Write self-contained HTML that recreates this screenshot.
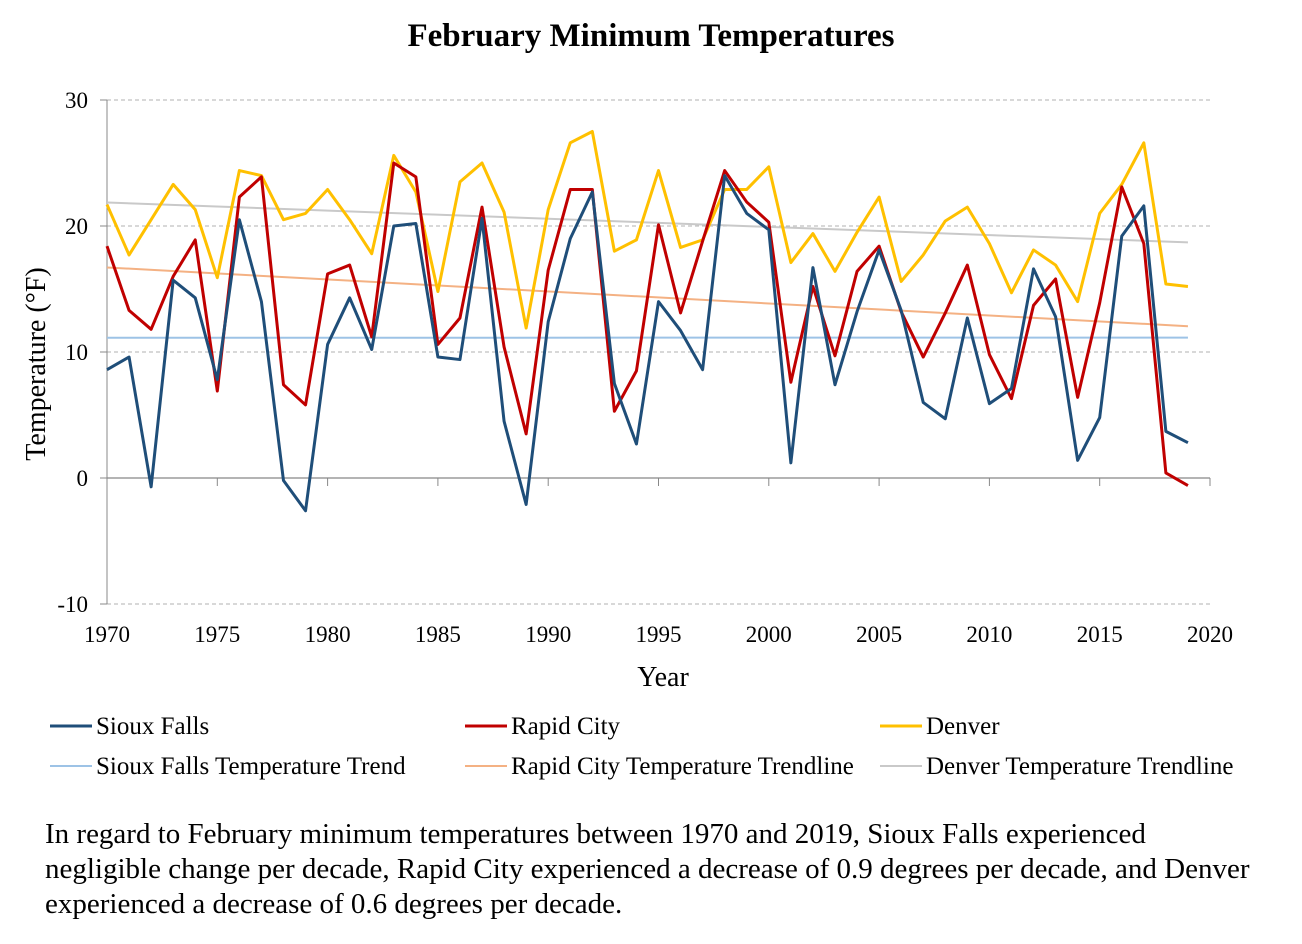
<!DOCTYPE html>
<html><head><meta charset="utf-8"><style>
body{margin:0;background:#fff;font-family:"Liberation Serif",serif;}
</style></head><body>
<svg width="1302" height="939" xmlns="http://www.w3.org/2000/svg" font-family="Liberation Serif, serif">
<text x="651" y="46" text-anchor="middle" font-size="33" font-weight="bold">February Minimum Temperatures</text>
<g id="grid"></g>
<g id="axes"></g>
<g id="series"></g>
<text transform="translate(45,364) rotate(-90)" text-anchor="middle" font-size="28">Temperature (°F)</text>
<text x="663" y="686" text-anchor="middle" font-size="28">Year</text>
<g font-size="25">
<line x1="50" y1="726" x2="92" y2="726" stroke="#1f4e79" stroke-width="3"/><text x="96" y="734">Sioux Falls</text>
<line x1="465" y1="726" x2="507" y2="726" stroke="#c00000" stroke-width="3"/><text x="511" y="734">Rapid City</text>
<line x1="880" y1="726" x2="922" y2="726" stroke="#ffc000" stroke-width="3"/><text x="926" y="734">Denver</text>
<line x1="50" y1="766" x2="92" y2="766" stroke="#9dc3e6" stroke-width="2"/><text x="96" y="774">Sioux Falls Temperature Trend</text>
<line x1="465" y1="766" x2="507" y2="766" stroke="#f4b183" stroke-width="2"/><text x="511" y="774">Rapid City Temperature Trendline</text>
<line x1="880" y1="766" x2="922" y2="766" stroke="#c9c9c9" stroke-width="2"/><text x="926" y="774">Denver Temperature Trendline</text>
</g>
<g font-size="29">
<text x="45" y="843">In regard to February minimum temperatures between 1970 and 2019, Sioux Falls experienced</text>
<text x="45" y="878">negligible change per decade, Rapid City experienced a decrease of 0.9 degrees per decade, and Denver</text>
<text x="45" y="913">experienced a decrease of 0.6 degrees per decade.</text>
</g>
</svg>
<script>
const startYear = 1970;
const siouxFalls = [8.6,9.6,-0.7,15.7,14.3,7.8,20.5,14.0,-0.2,-2.6,10.6,14.3,10.2,20.0,20.2,9.6,9.4,20.6,4.5,-2.1,12.4,19.0,22.7,7.5,2.7,14.0,11.7,8.6,24.0,21.0,19.7,1.2,16.7,7.4,13.2,18.1,13.3,6.0,4.7,12.7,5.9,7.1,16.6,12.8,1.4,4.8,19.2,21.6,3.7,2.8];
const rapidCity = [18.4,13.3,11.8,16.0,18.9,6.9,22.3,23.9,7.4,5.8,16.2,16.9,11.2,25.0,23.9,10.6,12.7,21.5,10.4,3.5,16.5,22.9,22.9,5.3,8.5,20.1,13.1,18.8,24.4,21.9,20.3,7.6,15.2,9.7,16.4,18.4,13.2,9.6,13.1,16.9,9.8,6.3,13.7,15.8,6.4,13.9,23.1,18.6,0.4,-0.6];
const denver = [21.7,17.7,20.5,23.3,21.3,15.9,24.4,24.0,20.5,21.0,22.9,20.5,17.8,25.6,22.7,14.8,23.5,25.0,21.1,11.9,21.3,26.6,27.5,18.0,18.9,24.4,18.3,18.9,22.9,22.9,24.7,17.1,19.4,16.4,19.5,22.3,15.6,17.7,20.4,21.5,18.6,14.7,18.1,16.9,14.0,21.0,23.3,26.6,15.4,15.2];
const yTicks = [-10,0,10,20,30];
const xTickLabels = [1970,1975,1980,1985,1990,1995,2000,2005,2010,2015,2020];

const NS="http://www.w3.org/2000/svg";
const X0=107,X1=1210,Y0=478,PXV=12.6;
const xs=yr=>X0+(yr-1970)*(X1-X0)/50;
const ys=v=>Y0-v*PXV;
function mk(t,a,p){const e=document.createElementNS(NS,t);for(const k in a)e.setAttribute(k,a[k]);p.appendChild(e);return e;}
const grid=document.getElementById('grid'),axes=document.getElementById('axes'),ser=document.getElementById('series');
yTicks.forEach(v=>{
  if(v!==0){const l=mk('line',{x1:X0,x2:X1,y1:ys(v),y2:ys(v),stroke:'#b0b0b0','stroke-dasharray':'4,3','stroke-width':1},grid);
  
  }
  mk('line',{x1:X0-7,x2:X0,y1:ys(v),y2:ys(v),stroke:'#888'},axes);
  const t=mk('text',{x:88,y:ys(v)+8,'text-anchor':'end','font-size':23},axes);t.textContent=v;
  
  
});
mk('line',{x1:X0,x2:X0,y1:ys(30),y2:ys(-10),stroke:'#888'},axes);
mk('line',{x1:X0,x2:X1,y1:Y0,y2:Y0,stroke:'#888','stroke-width':1.2},axes);
xTickLabels.forEach(yr=>{
  mk('line',{x1:xs(yr),x2:xs(yr),y1:Y0,y2:Y0+8,stroke:'#888'},axes);
  const t=mk('text',{x:xs(yr),y:642,'text-anchor':'middle','font-size':23},axes);t.textContent=yr;
  
  
});
function trend(d,color,name){
  const n=d.length;let sx=0,sy=0,sxx=0,sxy=0;
  d.forEach((v,i)=>{sx+=i;sy+=v;sxx+=i*i;sxy+=i*v;});
  const b=(n*sxy-sx*sy)/(n*sxx-sx*sx),a=(sy-b*sx)/n;
  const l=mk('line',{x1:xs(startYear),y1:ys(a),x2:xs(startYear+n-1),y2:ys(a+b*(n-1)),stroke:color,'stroke-width':2},ser);
  
  
}
trend(siouxFalls,'#9dc3e6','sioux-falls-trendline');
trend(rapidCity,'#f4b183','rapid-city-trendline');
trend(denver,'#c9c9c9','denver-trendline');
function line(d,color,name){
  const p=mk('polyline',{points:d.map((v,i)=>xs(startYear+i)+','+ys(v)).join(' '),fill:'none',stroke:color,'stroke-width':3,'stroke-linejoin':'round'},ser);
  
  
}
line(denver,'#ffc000','denver-line');
line(rapidCity,'#c00000','rapid-city-line');
line(siouxFalls,'#1f4e79','sioux-falls-line');
</script>
</body></html>
